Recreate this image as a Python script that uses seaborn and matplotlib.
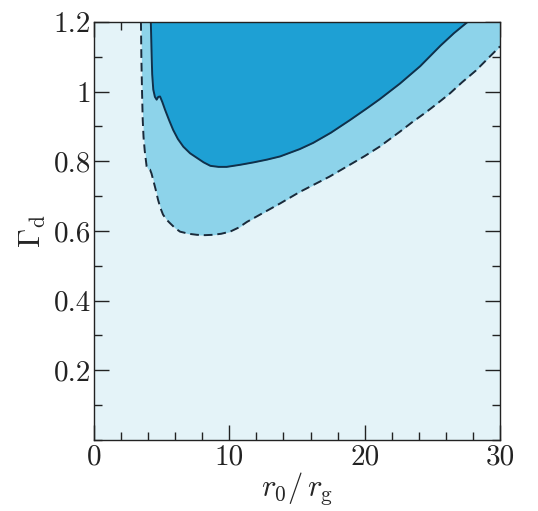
import matplotlib

matplotlib.use("Agg")

import matplotlib.pyplot as plt
import pandas as pd
import seaborn as sns
from matplotlib.ticker import MultipleLocator

# Outer (dashed) boundary
outer_x = [3.47, 3.5, 3.55, 3.6, 3.66, 3.75, 3.89, 4.0, 4.14, 4.25, 4.37, 4.55, 4.73, 4.9, 5.1, 5.35, 5.6,
           6.0, 6.36, 7.0, 7.6, 8.2, 8.8, 9.4, 10.05, 10.7, 11.3, 12.5, 13.75, 15.2, 16.3, 17.4, 18.9,
           20.0, 21.1, 22.6, 23.5, 24.5, 25.4, 26.3, 27.2, 28.2, 29.1, 30.0]
outer_y = [1.2, 1.1, 1.0, 0.92, 0.87, 0.83, 0.785, 0.777, 0.776, 0.765, 0.747, 0.72, 0.69, 0.667, 0.647,
           0.633, 0.623, 0.608, 0.598, 0.592, 0.589, 0.588, 0.589, 0.592, 0.598, 0.61, 0.626, 0.652, 0.679,
           0.712, 0.734, 0.756, 0.79, 0.815, 0.842, 0.885, 0.912, 0.94, 0.967, 0.995, 1.027, 1.06, 1.095, 1.13]

# Inner (solid) boundary
inner_x = [4.2, 4.25, 4.3, 4.38, 4.5, 4.63, 4.75, 4.88, 5.05, 5.25, 5.55, 5.85, 6.2, 6.6, 7.1, 7.6, 8.1,
           8.6, 9.2, 9.8, 10.8, 11.8, 12.8, 13.75, 15.2, 16.2, 17.5, 18.9, 20.2, 21.1, 22.6, 24.1, 25.6,
           26.6, 27.6]
inner_y = [1.2, 1.12, 1.05, 1.006, 0.985, 0.977, 0.985, 0.986, 0.97, 0.948, 0.918, 0.89, 0.864, 0.842,
           0.823, 0.81, 0.797, 0.787, 0.784, 0.784, 0.79, 0.797, 0.805, 0.814, 0.835, 0.853, 0.882, 0.918,
           0.953, 0.978, 1.023, 1.073, 1.132, 1.168, 1.2]

X_TICKS = [0, 10, 20, 30]
Y_TICKS = [0.2, 0.4, 0.6, 0.8, 1, 1.2]
Y_TICK_LABELS = ["0.2", "0.4", "0.6", "0.8", "1", "1.2"]

LIGHT = "#e4f3f8"
MEDIUM = "#8dd3ea"
DARK = "#1ea0d4"

sns.set_theme(style="ticks")
plt.rcParams["font.family"] = ["cmr10", "DejaVu Serif"]
plt.rcParams["mathtext.fontset"] = "cm"
plt.rcParams["axes.formatter.use_mathtext"] = True

outer = pd.DataFrame({"x": outer_x, "y": outer_y})
inner = pd.DataFrame({"x": inner_x, "y": inner_y})

fig = plt.figure(figsize=(5.38, 5.11), dpi=100)
ax = fig.add_axes([0.1747, 0.139, 0.7547, 0.818])
ax.set_facecolor(LIGHT)

ax.fill_between(outer["x"], outer["y"], 1.2, color=MEDIUM, lw=0)
ax.fill_between(inner["x"], inner["y"], 1.2, color=DARK, lw=0)

sns.lineplot(data=outer, x="x", y="y", sort=False, estimator=None, ax=ax,
             color="#1a2a3a", lw=1.4, linestyle=(0, (4.5, 2.5)))
sns.lineplot(data=inner, x="x", y="y", sort=False, estimator=None, ax=ax,
             color="#10304a", lw=1.4)

ax.set_xlim(0, 30)
ax.set_ylim(0, 1.2)
ax.set_xticks(X_TICKS)
ax.set_xticklabels([str(t) for t in X_TICKS])
ax.set_yticks(Y_TICKS)
ax.set_yticklabels(Y_TICK_LABELS)
ax.xaxis.set_minor_locator(MultipleLocator(2))
ax.yaxis.set_minor_locator(MultipleLocator(0.1))
ax.tick_params(which="both", direction="in", top=True, right=True, colors="#222222",
               labelsize=21, width=1.0)
ax.tick_params(axis="x", pad=3)
ax.tick_params(axis="y", pad=2)
ax.tick_params(which="major", length=11)
ax.tick_params(which="minor", length=6)
for spine in ax.spines.values():
    spine.set_color("#222222")
    spine.set_linewidth(1.0)

ax.set_xlabel(r"$r_0/\,r_{\rm g}$", fontsize=22, labelpad=0)
ax.set_ylabel(r"$\Gamma_{\rm d}$", fontsize=22, labelpad=4)

fig.savefig("out.png", dpi=100)
plt.close(fig)
